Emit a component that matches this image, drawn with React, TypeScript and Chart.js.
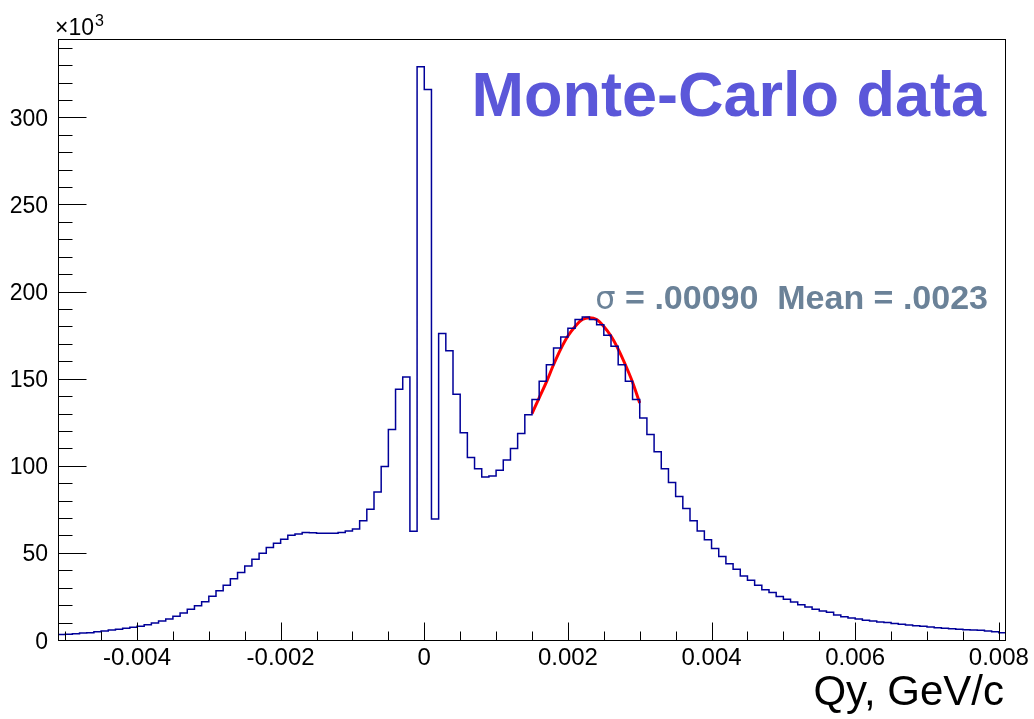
import React, { useEffect, useRef } from "react";
import { Chart, registerables } from "chart.js";

Chart.register(...registerables);

// Histogram: 132 bins of width 0.0001 starting at -0.0051 (counts in units of 10^3)
const binStart = -0.0051;
const binWidth = 0.0001;
const binCounts = [
  3.1, 3.3, 3.6, 4.0, 4.2, 4.8, 5.2, 5.7, 6.1, 6.7,
  7.3, 7.9, 8.8, 9.8, 10.9, 12.1, 13.6, 15.5, 17.6, 19.7,
  22.0, 25.1, 28.2, 31.4, 35.1, 38.7, 42.5, 46.4, 49.8, 53.1,
  55.6, 57.9, 60.2, 60.9, 61.7, 61.5, 61.3, 61.3, 61.3, 61.7,
  62.5, 63.7, 68.5, 75.0, 84.9, 99.6, 120.9, 144.0, 151.0, 62.4,
  329.0, 316.0, 69.5, 176.0, 166.0, 141.0, 119.0, 104.8, 98.3, 93.5,
  94.2, 97.5, 103.3, 110.0, 118.5, 129.3, 138.0, 148.5, 158.0, 167.6,
  174.0, 179.0, 184.0, 185.4, 184.0, 181.0, 175.0, 168.6, 158.0, 148.5,
  138.0, 127.4, 118.0, 108.0, 98.3, 90.4, 82.4, 75.5, 68.4, 62.6,
  57.5, 52.5, 47.9, 43.7, 40.6, 36.8, 34.3, 31.4, 28.9, 27.2,
  24.9, 23.4, 21.8, 20.3, 19.0, 17.6, 16.7, 15.9, 14.4, 13.4,
  12.6, 12.1, 11.3, 10.9, 10.3, 10.0, 9.4, 9.0, 8.6, 8.2,
  7.9, 7.5, 7.1, 6.7, 6.5, 6.1, 5.9, 5.7, 5.6, 5.2,
  4.8, 4.2,
];

// Gaussian fit curve
const fitX = [0.0015, 0.0016, 0.0017, 0.0018, 0.0019, 0.002, 0.0021, 0.0022, 0.0023, 0.0024, 0.0025, 0.0026, 0.0027, 0.0028, 0.0029, 0.003];
const fitY = [130, 139, 148, 158, 167, 174.5, 180, 184, 185, 184, 180, 174.5, 167, 158, 148, 136];

// Axes
const xMin = -0.0051;
const xMax = 0.0081;
const yMin = 0;
const yMax = 345;
const xMajorTicks = [-0.004, -0.002, 0, 0.002, 0.004, 0.006, 0.008];
const xTickLabels = ["-0.004", "-0.002", "0", "0.002", "0.004", "0.006", "0.008"];
const xMinorTicks = [
  -0.005, -0.0045, -0.004, -0.0035, -0.003, -0.0025, -0.002, -0.0015, -0.001, -0.0005,
  0, 0.0005, 0.001, 0.0015, 0.002, 0.0025, 0.003, 0.0035, 0.004, 0.0045, 0.005,
  0.0055, 0.006, 0.0065, 0.007, 0.0075, 0.008,
];
const yMajorTicks = [0, 50, 100, 150, 200, 250, 300];
const yTickLabels = ["0", "50", "100", "150", "200", "250", "300"];
const yMinorTicks = [
  0, 10, 20, 30, 40, 50, 60, 70, 80, 90, 100, 110, 120, 130, 140, 150, 160, 170,
  180, 190, 200, 210, 220, 230, 240, 250, 260, 270, 280, 290, 300, 310, 320, 330, 340,
];

const titleText = "Monte-Carlo data";
const statSymbol = "σ";
const statText = " = .00090  Mean = .0023";
const xAxisTitle = "Qy, GeV/c";
const yExponentBase = "×10";
const yExponent = "3";

const FONT = "'Liberation Sans', Arial, Helvetica, sans-serif";

const rootAxesPlugin = {
  id: "rootAxes",
  afterDatasetsDraw(chart: any) {
    const ctx = chart.ctx as CanvasRenderingContext2D;
    const area = chart.chartArea;
    const xs = chart.scales.x;
    const ys = chart.scales.y;
    ctx.save();
    ctx.strokeStyle = "#000";
    ctx.lineWidth = 1;
    // frame
    ctx.strokeRect(Math.round(area.left) + 0.5, Math.round(area.top) + 0.5,
      Math.round(area.right - area.left) - 1, Math.round(area.bottom - area.top));
    const bottom = Math.round(area.bottom) + 0.5;
    const left = Math.round(area.left) + 0.5;
    ctx.beginPath();
    for (const v of xMinorTicks) {
      const px = Math.round(xs.getPixelForValue(v)) + 0.5;
      ctx.moveTo(px, bottom);
      ctx.lineTo(px, bottom - 9);
    }
    for (const v of xMajorTicks) {
      const px = Math.round(xs.getPixelForValue(v)) + 0.5;
      ctx.moveTo(px, bottom);
      ctx.lineTo(px, bottom - 18);
    }
    for (const v of yMinorTicks) {
      const py = Math.round(ys.getPixelForValue(v)) + 0.5;
      ctx.moveTo(left, py);
      ctx.lineTo(left + 14, py);
    }
    for (const v of yMajorTicks) {
      const py = Math.round(ys.getPixelForValue(v)) + 0.5;
      ctx.moveTo(left, py);
      ctx.lineTo(left + 28, py);
    }
    ctx.stroke();

    // tick labels
    ctx.fillStyle = "#000";
    ctx.font = `24px ${FONT}`;
    ctx.textAlign = "center";
    ctx.textBaseline = "alphabetic";
    xMajorTicks.forEach((v, i) => {
      ctx.fillText(xTickLabels[i], xs.getPixelForValue(v), area.bottom + 25);
    });
    ctx.font = `23px ${FONT}`;
    ctx.textAlign = "right";
    yMajorTicks.forEach((v, i) => {
      ctx.fillText(yTickLabels[i], area.left - 10, ys.getPixelForValue(v) + 8.5);
    });
    // exponent
    ctx.textAlign = "left";
    ctx.font = `23px ${FONT}`;
    ctx.fillText(yExponentBase, area.left - 3, area.top - 4);
    const w = ctx.measureText(yExponentBase).width;
    ctx.font = `16px ${FONT}`;
    ctx.fillText(yExponent, area.left - 3 + w + 1, area.top - 13);

    // axis title
    ctx.font = `42px ${FONT}`;
    ctx.textAlign = "right";
    ctx.fillText(xAxisTitle, area.right - 2, 705);

    // title text
    ctx.font = `bold 63px ${FONT}`;
    ctx.fillStyle = "#5b57d9";
    ctx.textAlign = "right";
    ctx.fillText(titleText, 986, 116);

    // stats text
    ctx.fillStyle = "#6b8298";
    ctx.textAlign = "right";
    ctx.font = `bold 34px ${FONT}`;
    ctx.fillText(statText, 988, 309);
    const sw = ctx.measureText(statText).width;
    ctx.font = `32px 'DejaVu Sans', ${FONT}`;
    ctx.fillText(statSymbol, 988 - sw, 309);
    ctx.restore();
  },
};

export default function App() {
  const canvasRef = useRef<HTMLCanvasElement | null>(null);

  useEffect(() => {
    const canvas = canvasRef.current;
    if (!canvas) return;
    const histPoints = binCounts.map((v, i) => ({ x: binStart + i * binWidth, y: v }));
    histPoints.push({ x: binStart + binCounts.length * binWidth, y: binCounts[binCounts.length - 1] });
    const fitPoints = fitX.map((x, i) => ({ x, y: fitY[i] }));

    const chart = new Chart(canvas, {
      type: "line",
      data: {
        datasets: [
          {
            label: "Histogram",
            data: histPoints,
            stepped: true,
            borderColor: "#000099",
            borderWidth: 1.5,
            pointRadius: 0,
            fill: false,
          },
          {
            label: "Fit",
            data: fitPoints,
            borderColor: "#ff0000",
            borderWidth: 3,
            pointRadius: 0,
            tension: 0.4,
            cubicInterpolationMode: "monotone",
            fill: false,
          },
        ],
      },
      options: {
        animation: false,
        responsive: false,
        devicePixelRatio: 1,
        layout: { padding: { left: 58, right: 28, top: 39, bottom: 79 } },
        plugins: { legend: { display: false }, tooltip: { enabled: false } },
        scales: {
          x: { type: "linear", min: xMin, max: xMax, display: false },
          y: { type: "linear", min: yMin, max: yMax, display: false },
        },
      },
      plugins: [rootAxesPlugin],
    });
    return () => chart.destroy();
  }, []);

  return (
    <div style={{ position: "absolute", left: 0, top: 0, width: 1034, height: 719, background: "#fff" }}>
      <canvas ref={canvasRef} width={1034} height={719} style={{ width: 1034, height: 719, display: "block" }} />
    </div>
  );
}
